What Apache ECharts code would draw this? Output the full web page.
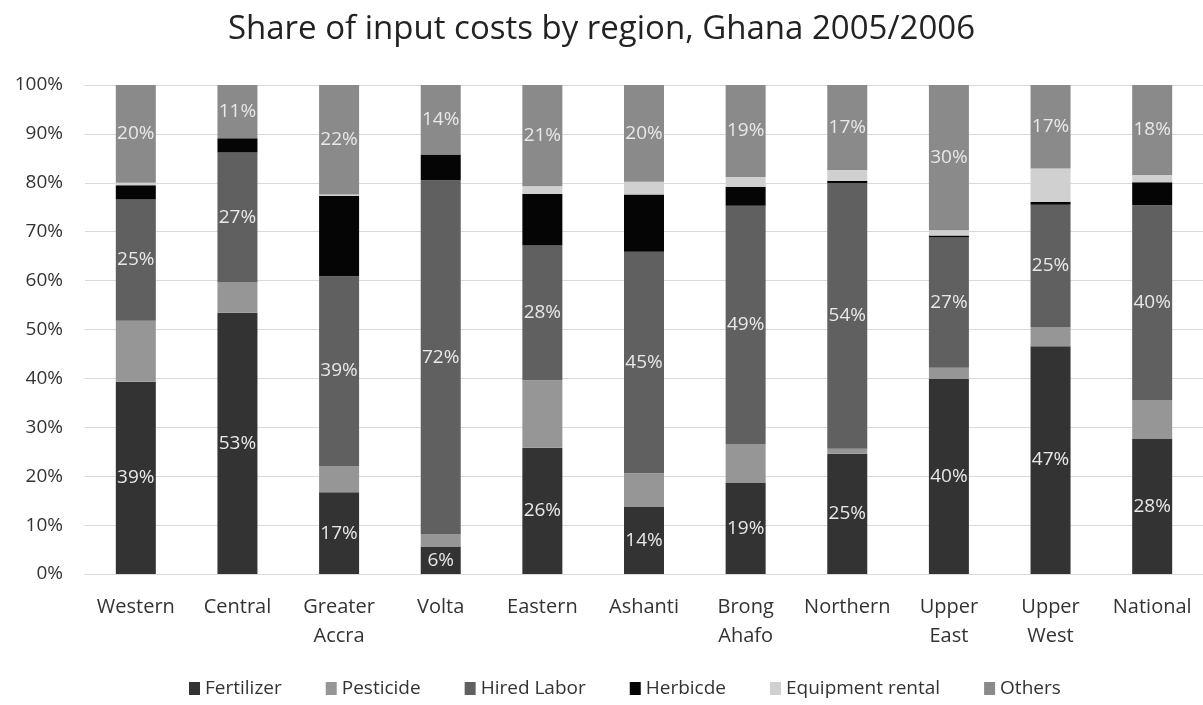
<!DOCTYPE html>
<html>
<head>
<meta charset="utf-8">
<script src="https://cdn.jsdelivr.net/npm/echarts@6/dist/echarts.min.js"></script>
<style>
  html, body { margin: 0; padding: 0; background: #fff; }
  #chart { width: 1203px; height: 705px; }
</style>
</head>
<body>
<div id="chart"></div>
<script>
// regions (x axis)
const regions = ['Western', 'Central', 'Greater\nAccra', 'Volta', 'Eastern', 'Ashanti',
  'Brong\nAhafo', 'Northern', 'Upper\nEast', 'Upper\nWest', 'National'];

// share of input costs, %
const fertilizer = [39.3, 53.4, 16.7, 5.6, 25.8, 13.8, 18.7, 24.6, 39.9, 46.6, 27.7];
const pesticide  = [12.5, 6.2, 5.4, 2.6, 13.8, 6.8, 7.9, 1.0, 2.3, 3.9, 7.9];
const hiredLabor = [24.8, 26.6, 38.8, 72.3, 27.6, 45.3, 48.7, 54.3, 26.6, 25.0, 39.8];
const herbicide  = [2.9, 2.9, 16.4, 5.3, 10.5, 11.7, 3.9, 0.5, 0.4, 0.6, 4.7];
const equipment  = [0.5, 0, 0.3, 0, 1.6, 2.6, 2.0, 2.2, 1.1, 6.8, 1.5];
const others     = [20.0, 10.9, 22.4, 14.2, 20.7, 19.8, 18.8, 17.4, 29.7, 17.1, 18.4];

const fontFam = '"Open Sans", "Noto Sans", sans-serif';

function seg(name, data, color, showLabel) {
  return {
    name: name,
    type: 'bar',
    stack: 'total',
    barWidth: 40,
    data: data,
    itemStyle: { color: color },
    label: {
      show: showLabel,
      position: 'inside',
      color: '#e8e8e8',
      fontSize: 19,
      fontFamily: fontFam,
      formatter: p => Math.round(p.value) + '%'
    },
    emphasis: { disabled: true }
  };
}

const option = {
  animation: false,
  title: {
    text: 'Share of input costs by region, Ghana 2005/2006',
    left: 'center',
    top: 8,
    textStyle: { fontSize: 33, fontWeight: 'normal', color: '#222', fontFamily: fontFam }
  },
  legend: {
    bottom: 2,
    left: 184,
    itemWidth: 11,
    itemHeight: 13,
    itemGap: 44,
    icon: 'rect',
    textStyle: { fontSize: 19, color: '#333', fontFamily: fontFam }
  },
  grid: {
    left: 85,
    top: 85,
    width: 1121,
    bottom: 131
  },
  xAxis: {
    type: 'category',
    data: regions,
    axisTick: { show: false },
    axisLine: { lineStyle: { color: '#d9d9d9', width: 1 } },
    axisLabel: {
      interval: 0,
      margin: 19,
      fontSize: 20,
      lineHeight: 29,
      color: '#333',
      fontFamily: fontFam
    }
  },
  yAxis: {
    type: 'value',
    min: 0,
    max: 100,
    interval: 10,
    axisLine: { show: false },
    axisTick: { show: false },
    splitLine: { lineStyle: { color: '#d9d9d9', width: 1 } },
    axisLabel: {
      margin: 22,
      fontSize: 19,
      color: '#333',
      fontFamily: fontFam,
      formatter: '{value}%'
    }
  },
  series: [
    seg('Fertilizer', fertilizer, '#333333', true),
    seg('Pesticide', pesticide, '#969696', false),
    seg('Hired Labor', hiredLabor, '#606060', true),
    seg('Herbicde', herbicide, '#050505', false),
    seg('Equipment rental', equipment, '#d0d0d0', false),
    seg('Others', others, '#8a8a8a', true)
  ]
};

const myChart = echarts.init(document.getElementById('chart'));
myChart.setOption(option);
</script>
</body>
</html>
